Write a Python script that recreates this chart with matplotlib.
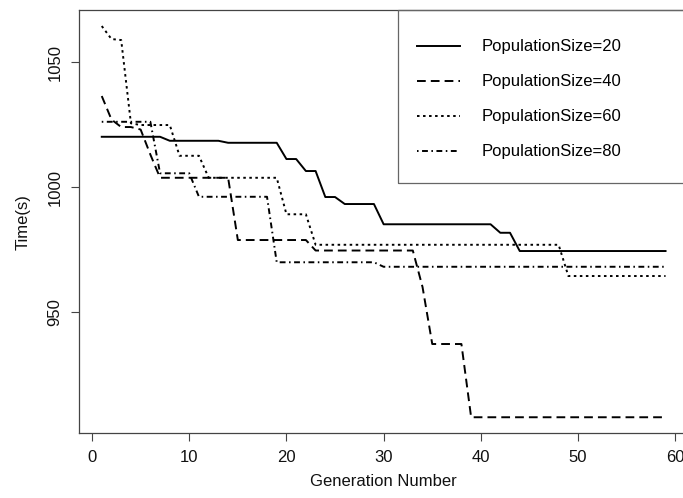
import matplotlib
matplotlib.use('Agg')
import matplotlib.pyplot as plt
from matplotlib.patches import Rectangle

plt.rcParams['font.family'] = ['Liberation Sans', 'DejaVu Sans']

# Generation numbers 1..59
generations = list(range(1, 60))

# Best time (s) per generation
pop20 = [1020.1, 1020.1, 1020.1, 1020.1, 1020.1, 1020.1, 1020.1, 1018.5, 1018.5, 1018.5,
         1018.5, 1018.5, 1018.5, 1017.7, 1017.7, 1017.7, 1017.7, 1017.7, 1017.7, 1011.2,
         1011.2, 1006.4, 1006.4, 996.0, 996.0, 993.2, 993.2, 993.2, 993.2, 985.1,
         985.1, 985.1, 985.1, 985.1, 985.1, 985.1, 985.1, 985.1, 985.1, 985.1,
         985.1, 981.7, 981.7, 974.4, 974.4, 974.4, 974.4, 974.4, 974.4, 974.4,
         974.4, 974.4, 974.4, 974.4, 974.4, 974.4, 974.4, 974.4, 974.4]

pop40 = [1036.4, 1027.0, 1024.0, 1024.0, 1023.0, 1013.0, 1003.7, 1003.7, 1003.7, 1003.7,
         1003.7, 1003.7, 1003.7, 1003.7, 978.8, 978.8, 978.8, 978.8, 978.8, 978.8,
         978.8, 978.8, 974.6, 974.6, 974.6, 974.6, 974.6, 974.6, 974.6, 974.6,
         974.6, 974.6, 974.6, 960.0, 937.2, 937.2, 937.2, 937.2, 907.9, 907.9,
         907.9, 907.9, 907.9, 907.9, 907.9, 907.9, 907.9, 907.9, 907.9, 907.9,
         907.9, 907.9, 907.9, 907.9, 907.9, 907.9, 907.9, 907.9, 907.9]

pop60 = [1064.4, 1059.2, 1058.8, 1025.5, 1024.8, 1024.8, 1024.8, 1024.8, 1012.5, 1012.5,
         1012.5, 1003.7, 1003.7, 1003.7, 1003.7, 1003.7, 1003.7, 1003.7, 1003.7, 989.1,
         989.1, 989.1, 976.9, 976.9, 976.9, 976.9, 976.9, 976.9, 976.9, 976.9,
         976.9, 976.9, 976.9, 976.9, 976.9, 976.9, 976.9, 976.9, 976.9, 976.9,
         976.9, 976.9, 976.9, 976.9, 976.9, 976.9, 976.9, 976.9, 964.4, 964.4,
         964.4, 964.4, 964.4, 964.4, 964.4, 964.4, 964.4, 964.4, 964.4]

pop80 = [1026.1, 1026.1, 1026.1, 1026.1, 1026.1, 1026.1, 1005.5, 1005.5, 1005.5, 1005.5,
         996.1, 996.1, 996.1, 996.1, 996.1, 996.1, 996.1, 996.1, 969.9, 969.9,
         969.9, 969.9, 969.9, 969.9, 969.9, 969.9, 969.9, 969.9, 969.9, 968.1,
         968.1, 968.1, 968.1, 968.1, 968.1, 968.1, 968.1, 968.1, 968.1, 968.1,
         968.1, 968.1, 968.1, 968.1, 968.1, 968.1, 968.1, 968.1, 968.1, 968.1,
         968.1, 968.1, 968.1, 968.1, 968.1, 968.1, 968.1, 968.1, 968.1]

labels = ['PopulationSize=20', 'PopulationSize=40', 'PopulationSize=60', 'PopulationSize=80']
xticks = [0, 10, 20, 30, 40, 50, 60]
yticks = [950, 1000, 1050]

W, H = 683, 498
fig = plt.figure(figsize=(W / 100, H / 100), dpi=100)
# axes box runs a bit past the right edge of the image, like the original
ax_l, ax_w, ax_b, ax_h = 79.2, 608.9, 432.9, 422.5
ax = fig.add_axes([ax_l / W, (H - ax_b) / H, ax_w / W, ax_h / H])

lw = 1.4
ax.plot(generations, pop20, color='black', lw=lw, linestyle='-', label=labels[0])
ax.plot(generations, pop40, color='black', lw=lw, linestyle=(0, (4.5, 2.6)), label=labels[1])
ax.plot(generations, pop60, color='black', lw=lw, linestyle=(0, (1.3, 1.8)), label=labels[2])
ax.plot(generations, pop80, color='black', lw=lw, linestyle=(0, (0.8, 1.8, 3.0, 1.8)), label=labels[3])

# R style 4% padding on both axes
ax.margins(x=0.04, y=0.04)
ax.set_xticks(xticks)
ax.set_yticks(yticks)

for sp in ax.spines.values():
    sp.set_color('#444444')
    sp.set_linewidth(0.9)
ax.tick_params(direction='out', length=6, width=0.8, color='#444444',
               labelsize=12, pad=6, labelcolor='#111111')
plt.setp(ax.get_yticklabels(), rotation=90, va='center')

ax.set_xlabel('Generation Number', fontsize=12, color='#111111')
ax.set_ylabel('Time(s)', fontsize=12, color='#111111')
ax.xaxis.set_label_coords(0.5, -0.097)
ax.yaxis.set_label_coords(-0.08, 0.5)

# legend box flush with the top right corner of the plot box
box_x0 = (398 - ax_l) / ax_w
box_y0 = (ax_b - 183) / ax_h
ax.add_patch(Rectangle((box_x0, box_y0), 1.02 - box_x0, 1 - box_y0, transform=ax.transAxes,
                       fill=False, edgecolor='#666666', lw=0.9, clip_on=False, zorder=5))
leg = ax.legend(loc='upper left', bbox_to_anchor=((417 - ax_l) / ax_w, (ax_b - 39.4) / ax_h),
                fontsize=12, frameon=False, borderpad=0, borderaxespad=0,
                labelspacing=1.2, handlelength=2.58, handletextpad=1.3)

fig.savefig('out.png', dpi=100)
